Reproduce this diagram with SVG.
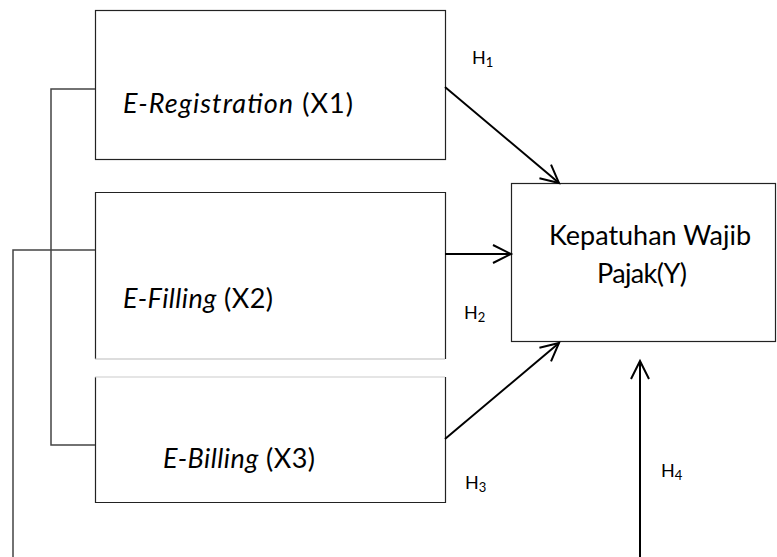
<svg xmlns="http://www.w3.org/2000/svg" width="777" height="557" viewBox="0 0 777 557">
<style>
.box{fill:#fff;stroke:#222;stroke-width:1.2}
.lbl{font-family:Lato,"Liberation Sans",sans-serif;fill:#000}
.big{font-size:27px}
.h{font-size:18px}
.sub{font-size:13px}
.conn{stroke:#000;stroke-width:2;fill:none}
.br{stroke:#444;stroke-width:1.5;fill:none}
</style>
<defs>
<marker id="arr" markerWidth="24" markerHeight="24" refX="20" refY="12" orient="auto" markerUnits="userSpaceOnUse">
<path d="M2,3 L20,12 L2,21" fill="none" stroke="#000" stroke-width="2"/>
</marker>
</defs>
<g id="x1">
<rect class="box" x="95.5" y="10.5" width="350" height="149"/>
<text class="lbl big" x="123" y="113" textLength="230"><tspan font-style="italic">E-Registration</tspan> (X1)</text>
</g>
<g id="x2">
<path d="M445.5,359 L445.5,192.5 L95.5,192.5 L95.5,359" fill="#fff" stroke="#222" stroke-width="1.2"/>
<line x1="95" y1="359" x2="445" y2="359" stroke="#bbb" stroke-width="1.2"/>
<text class="lbl big" x="123" y="308" textLength="150"><tspan font-style="italic">E-Filling</tspan> (X2)</text>
</g>
<g id="x3">
<path d="M95.5,377 L95.5,502.5 L445.5,502.5 L445.5,377" fill="#fff" stroke="#222" stroke-width="1.2"/>
<line x1="95" y1="377" x2="445" y2="377" stroke="#ccc" stroke-width="1.2"/>
<text class="lbl big" x="163" y="468" textLength="152"><tspan font-style="italic">E-Billing</tspan> (X3)</text>
</g>
<g id="y">
<rect class="box" x="511.5" y="183.5" width="264" height="158"/>
<text class="lbl big" x="549" y="245" textLength="202">Kepatuhan Wajib</text>
<text class="lbl big" x="597" y="283" textLength="90">Pajak(Y)</text>
</g>
<g id="connectors">
<path class="br" d="M95,89 L51,89 L51,445 L95,445"/>
<path class="br" d="M95,250 L13,250 L13,557"/>
<line class="conn" x1="445" y1="87" x2="559" y2="183" marker-end="url(#arr)"/>
<line class="conn" x1="445" y1="254" x2="511" y2="254" marker-end="url(#arr)"/>
<line class="conn" x1="445" y1="439" x2="559" y2="343" marker-end="url(#arr)"/>
<line class="conn" x1="640" y1="557" x2="640" y2="361" marker-end="url(#arr)"/>
<text class="lbl h" x="472" y="64">H<tspan class="sub" dy="3">1</tspan></text>
<text class="lbl h" x="464" y="319">H<tspan class="sub" dy="3">2</tspan></text>
<text class="lbl h" x="465" y="489">H<tspan class="sub" dy="3">3</tspan></text>
<text class="lbl h" x="661" y="477">H<tspan class="sub" dy="3">4</tspan></text>
</g>
</svg>
